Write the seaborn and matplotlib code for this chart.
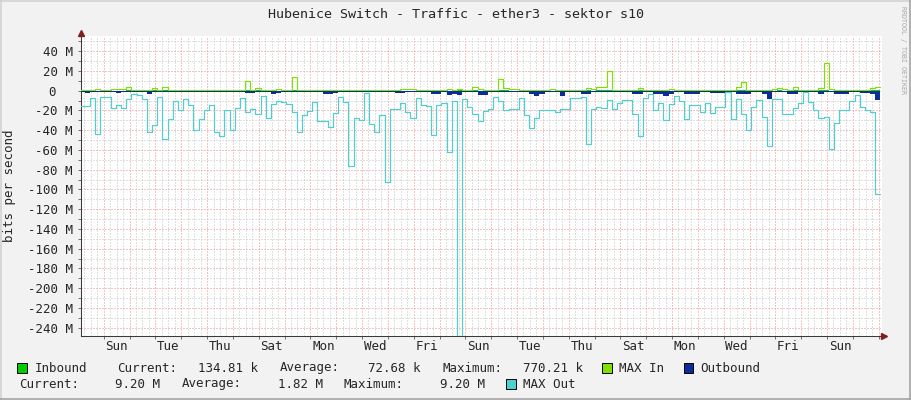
import numpy as np
import pandas as pd
import matplotlib
matplotlib.use("Agg")
import matplotlib.pyplot as plt
import seaborn as sns
from matplotlib.patches import Rectangle
from matplotlib.lines import Line2D
from matplotlib.ticker import MultipleLocator, FuncFormatter

# ---------------- data ----------------
TITLE = "Hubenice Switch - Traffic - ether3 - sektor s10"
Y_LABEL = "bits per second"
WATERMARK = "RRDTOOL / TOBI OETIKER"
DAY_LABELS = ["Sun", "Tue", "Thu", "Sat", "Mon", "Wed", "Fri", "Sun",
              "Tue", "Thu", "Sat", "Mon", "Wed", "Fri", "Sun"]
START_DAY = -0.93      # first sample, days relative to first Sunday 00:00
STEP_DAYS = 0.2        # sample width in days

# values in Mbit/s (outbound plotted negative)
MAX_OUT = [
    -16, -16, -7.5, -44, -6, -6, -17.5, -14.5, -17.5, -8.5,
    -3.5, -4.5, -8, -41.5, -35, -6, -48.5, -28.5, -11, -20,
    -8, -14.5, -39.5, -28.5, -20, -15, -41.5, -45.5, -20, -40,
    -17.5, -7, -21.5, -18.5, -24, -5, -28, -14, -10.5, -11.5,
    -14, -22, -41.5, -25, -21, -12, -31, -31, -36.5, -22.5,
    -6, -11.5, -76.5, -27.5, -30, -2.5, -34, -41.5, -25, -92,
    -19, -19, -13, -21.5, -28, -7, -14.5, -15.5, -45, -14.5,
    -12.5, -62, -11, -248, -8.5, -17, -24, -30.5, -21, -19,
    -6, -10, -20, -18.5, -18.5, -7, -25, -38, -27.5, -20,
    -20, -20, -21.5, -19, -19, -7, -7, -6, -54, -19,
    -17, -18, -9.5, -19, -13, -9.5, -9.5, -24, -46, -7,
    -3.5, -19.6, -12.9, -29.8, -13.6, -5.5, -10.5, -29, -14.9, -14.9,
    -21.7, -12.9, -23, -16.9, -16.9, -1.1, -29, -8.2, -24, -39.9,
    -16.9, -9.5, -26.4, -56, -8.8, -8.8, -24, -24, -17.9, -12.2,
    -1.1, -11.2, -19.6, -28, -26.4, -59, -33, -20, -20, -10.5,
    -4.8, -16.3, -19.6, -21.3, -104.7,
]
MAX_IN = [
    0.5, 0.5, 0.5, 1.3, 0.5, 0.5, 1.3, 1.3, 1.3, 3.3,
    0.5, 0.5, 0.5, 0.5, 2.3, 0.5, 3.3, 0.5, 0.5, 0.5,
    0.5, 0.5, 0.5, 0.5, 0.5, 0.5, 0.5, 0.5, 0.5, 0.5,
    0.5, 0.5, 9.7, 0.5, 2.3, 0.5, 0.5, 0.5, 1.3, 0.5,
    0.5, 13.4, 0.5, 0.5, 0.5, 0.5, 0.5, 0.5, 0.5, 0.5,
    0.5, 0.5, 0.5, 0.5, 0.5, 0.5, 0.5, 0.5, 0.5, 0.5,
    0.5, 0.5, 1.3, 1.3, 1.3, 0.5, 0.5, 0.5, 0.5, 0.5,
    0.5, 1.3, 0.5, 2.0, 0.5, 0.5, 3.3, 1.3, 0.5, 0.5,
    0.5, 11.4, 2.3, 1.3, 1.3, 0.5, 0.5, 0.5, 0.5, 0.5,
    0.5, 1.3, 0.5, 0.5, 0.5, 0.5, 0.5, 0.5, 2.3, 1.7,
    4.0, 4.0, 20.0, 0.5, 0.5, 0.5, 0.5, 0.5, 2.3, 0.5,
    0.5, 0.5, 0.5, 0.5, 1.3, 0.5, 0.5, 0.5, 0.5, 0.5,
    0.5, 0.5, 0.5, 0.5, 0.5, 0.5, 0.5, 4.0, 8.7, 0.5,
    0.5, 0.5, 0.5, 0.5, 1.3, 2.3, 1.3, 0.5, 3.3, 0.5,
    0.5, 0.5, 0.5, 2.3, 27.6, 1.3, 0.5, 0.5, 0.5, 0.5,
    0.5, 0.5, 0.5, 2.3, 3.3,
]
OUTBOUND = [
    -1.0, -2.4, -1.0, -1.0, -1.0, -1.0, -1.8, -2.4, -1.0, -1.0,
    -1.0, -1.0, -1.0, -3.0, -1.8, -1.0, -1.0, -1.0, -1.0, -1.0,
    -1.0, -1.0, -1.8, -1.8, -1.0, -1.0, -1.8, -1.8, -1.8, -1.8,
    -1.0, -1.0, -2.4, -2.4, -1.0, -1.0, -1.0, -3.0, -2.4, -1.0,
    -1.0, -1.8, -1.8, -1.8, -1.0, -1.0, -1.0, -3.0, -3.0, -2.4,
    -1.0, -1.0, -1.8, -1.8, -1.8, -1.0, -1.8, -1.8, -1.0, -1.0,
    -1.0, -2.4, -2.4, -1.0, -1.0, -1.0, -1.0, -1.0, -3.6, -3.6,
    -1.0, -4.6, -3.0, -4.6, -1.0, -1.0, -1.0, -4.6, -4.6, -1.0,
    -1.0, -1.0, -1.8, -1.8, -1.0, -1.0, -1.0, -3.6, -5.9, -3.6,
    -1.0, -1.0, -1.0, -5.9, -1.0, -1.0, -1.0, -3.6, -3.6, -1.0,
    -1.0, -1.0, -1.8, -1.0, -1.0, -1.0, -1.0, -3.0, -3.0, -1.0,
    -1.0, -3.0, -3.0, -5.3, -3.0, -1.0, -1.0, -3.0, -3.0, -3.0,
    -1.0, -1.0, -2.4, -2.4, -2.4, -1.0, -1.0, -3.0, -3.6, -3.0,
    -1.0, -1.0, -3.6, -8.8, -1.0, -1.0, -1.0, -3.6, -3.6, -1.0,
    -1.0, -1.0, -1.0, -3.0, -1.0, -1.0, -3.0, -3.0, -3.0, -1.0,
    -1.0, -2.4, -2.4, -3.6, -9.2,
]
INBOUND = [
    0.05, 0.06, 0.04, 0.09, 0.05, 0.04, 0.08, 0.10, 0.09, 0.21,
    0.05, 0.04, 0.03, 0.06, 0.15, 0.05, 0.24, 0.06, 0.04, 0.05,
    0.04, 0.05, 0.07, 0.06, 0.05, 0.06, 0.08, 0.07, 0.06, 0.07,
    0.05, 0.04, 0.52, 0.06, 0.14, 0.05, 0.06, 0.05, 0.09, 0.06,
    0.05, 0.77, 0.06, 0.05, 0.04, 0.05, 0.06, 0.07, 0.06, 0.05,
    0.04, 0.05, 0.06, 0.05, 0.06, 0.04, 0.05, 0.06, 0.05, 0.07,
    0.06, 0.05, 0.10, 0.09, 0.11, 0.05, 0.04, 0.05, 0.07, 0.06,
    0.05, 0.10, 0.06, 0.13, 0.05, 0.04, 0.22, 0.09, 0.05, 0.04,
    0.05, 0.61, 0.15, 0.09, 0.08, 0.05, 0.04, 0.06, 0.07, 0.05,
    0.04, 0.09, 0.05, 0.06, 0.05, 0.04, 0.05, 0.06, 0.16, 0.12,
    0.25, 0.27, 0.74, 0.06, 0.05, 0.04, 0.05, 0.06, 0.15, 0.05,
    0.04, 0.05, 0.06, 0.05, 0.09, 0.04, 0.05, 0.06, 0.05, 0.04,
    0.05, 0.04, 0.06, 0.05, 0.05, 0.04, 0.06, 0.27, 0.48, 0.05,
    0.04, 0.05, 0.06, 0.07, 0.09, 0.15, 0.08, 0.05, 0.21, 0.05,
    0.04, 0.05, 0.06, 0.14, 0.70, 0.09, 0.05, 0.04, 0.05, 0.06,
    0.05, 0.04, 0.06, 0.15, 0.13,
]
IN_STATS = ["134.81 k", "72.68 k", "770.21 k"]     # current, average, maximum
OUT_STATS = ["9.20 M", "1.82 M", "9.20 M"]

C_INBOUND = "#00CC00"
C_MAXIN = "#80E000"
C_OUTBOUND = "#0A2C9C"
C_MAXOUT = "#4CD0D0"

# ---------------- frame ----------------
W, H = 911, 400
MONO = ["DejaVu Sans Mono", "DejaVu Sans"]
sns.set_style("white")
plt.rcParams["font.family"] = MONO

fig = plt.figure(figsize=(W / 100, H / 100), dpi=100)
fig.patch.set_facecolor("#F2F2F2")
ax = fig.add_axes([81 / W, (H - 336) / H, 800.5 / W, 300 / H])
ax.set_facecolor("white")

n = len(MAX_OUT)
edges = START_DAY + STEP_DAYS * np.arange(n + 1)
df = pd.DataFrame({
    "day": edges,
    "inbound": INBOUND + [INBOUND[-1]],
    "max_in": MAX_IN + [MAX_IN[-1]],
    "outbound": OUTBOUND + [OUTBOUND[-1]],
    "max_out": MAX_OUT + [MAX_OUT[-1]],
})

ax.fill_between(df["day"], 0, df["inbound"], step="post", color=C_INBOUND, lw=0, zorder=3)
sns.lineplot(data=df, x="day", y="max_in", ax=ax, color=C_MAXIN, lw=0.85,
             drawstyle="steps-post", zorder=4, estimator=None)
ax.fill_between(df["day"], 0, df["outbound"], step="post", color=C_OUTBOUND, lw=0, zorder=5)
sns.lineplot(data=df, x="day", y="max_out", ax=ax, color=C_MAXOUT, lw=0.85,
             drawstyle="steps-post", zorder=6, estimator=None)

ax.set_xlim(-0.88, 30.11)
ax.set_ylim(-248.4, 55.3)
ax.set_xlabel("")
ax.set_ylabel("")

# grids
ax.set_axisbelow(True)
ax.xaxis.set_major_locator(MultipleLocator(1))
ax.xaxis.set_minor_locator(MultipleLocator(0.25))
ax.yaxis.set_major_locator(MultipleLocator(20))
ax.yaxis.set_minor_locator(MultipleLocator(10))
dots = (0, (1, 2))
ax.grid(which="minor", color="#C2C2C2", lw=0.72, ls=dots)
ax.grid(which="major", color="#EC8C8C", lw=0.72, ls=dots)

def ylab(v, pos):
    v = int(round(v))
    return "" if v == 0 else f"{v} M"

ax.yaxis.set_major_formatter(FuncFormatter(ylab))
ax.tick_params(axis="y", which="both", direction="out", length=2.2, width=0.7,
               color="#707070", labelsize=9, pad=3.6, left=True)
ax.tick_params(axis="x", which="major", direction="out", length=2.0, width=0.7,
               color="#707070", labelbottom=False, bottom=True)
ax.tick_params(axis="x", which="minor", length=0)

# the zero label sits in a fixed-width field, further left than the others
ax.annotate("0", xy=(0, 0), xycoords=("axes fraction", "data"),
            xytext=(-29, 0), textcoords="offset pixels",
            ha="center", va="center_baseline", fontsize=9, annotation_clip=False)

sec = ax.secondary_xaxis("bottom")
sec.set_xticks(0.5 + 2 * np.arange(len(DAY_LABELS)), DAY_LABELS)
sec.tick_params(length=0, labelsize=9, pad=3.0)
sec.spines["bottom"].set_visible(False)

for s in ["top", "right"]:
    ax.spines[s].set_visible(False)
for s in ["left", "bottom"]:
    ax.spines[s].set_color("#3A3A3A")
    ax.spines[s].set_linewidth(0.75)

# axis arrows
ax.plot([0], [1.01], marker="^", ms=4.5, color="#801F1F", transform=ax.transAxes,
        clip_on=False, zorder=10)
ax.plot([1.003], [0], marker=">", ms=4.5, color="#801F1F", transform=ax.transAxes,
        clip_on=False, zorder=10)

# texts
def fx(px):
    return px / W

def fy(py):
    return 1 - py / H

fig.text(fx(455.5), fy(14), TITLE, ha="center", va="center", fontsize=9.6)
fig.text(fx(10), fy(186), Y_LABEL, rotation=90, ha="center", va="center", fontsize=9)
fig.text(fx(903), fy(6), WATERMARK, rotation=270, ha="center", va="top",
         fontsize=4.8, color="#A8A8A8")

def swatch(x, yc, color):
    fig.add_artist(Rectangle((fx(x), fy(yc + 4.8)), 9.6 / W, 9.6 / H,
                             transform=fig.transFigure, facecolor=color,
                             edgecolor="black", lw=0.7))

r1, r2 = 368, 384
swatch(17, r1, C_INBOUND)
swatch(602, r1, C_MAXIN)
swatch(683.5, r1, C_OUTBOUND)
swatch(506, r2, C_MAXOUT)
row1 = [(34.6, "Inbound"), (117.3, "Current:"), (198, IN_STATS[0]),
        (280, "Average:"), (368.5, IN_STATS[1]), (442.3, "Maximum:"),
        (523, IN_STATS[2]), (619, "MAX In"), (700.7, "Outbound")]
row2 = [(19.2, "Current:"), (115.4, OUT_STATS[0]), (182, "Average:"),
        (278, OUT_STATS[1]), (344, "Maximum:"), (440, OUT_STATS[2]),
        (523, "MAX Out")]
for x, t in row1:
    fig.text(fx(x), fy(r1), t, ha="left", va="center", fontsize=9)
for x, t in row2:
    fig.text(fx(x), fy(r2), t, ha="left", va="center", fontsize=9)

# image border shading
fig.add_artist(Line2D([0, 1], [fy(0.75), fy(0.75)], transform=fig.transFigure, color="#CFCFCF", lw=1.1))
fig.add_artist(Line2D([fx(0.75), fx(0.75)], [0, 1], transform=fig.transFigure, color="#CFCFCF", lw=1.1))
fig.add_artist(Line2D([0, 1], [fy(399.25), fy(399.25)], transform=fig.transFigure, color="#9E9E9E", lw=1.1))
fig.add_artist(Line2D([fx(910.25), fx(910.25)], [0, 1], transform=fig.transFigure, color="#9E9E9E", lw=1.1))

fig.savefig("out.png", dpi=100, facecolor=fig.get_facecolor())
